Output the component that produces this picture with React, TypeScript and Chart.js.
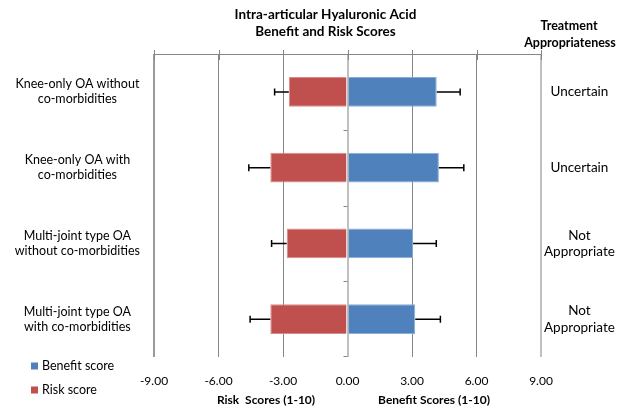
import React, { useEffect, useRef } from "react";
import { Chart, registerables } from "chart.js";

Chart.register(...registerables);

const categories: string[][] = [
  ["Knee-only OA without", "co-morbidities"],
  ["Knee-only OA with", "co-morbidities"],
  ["Multi-joint type OA", "without co-morbidities"],
  ["Multi-joint type OA", "with co-morbidities"],
];
const appropriateness: string[][] = [
  ["Uncertain"],
  ["Uncertain"],
  ["Not", "Appropriate"],
  ["Not", "Appropriate"],
];
const benefitScores = [4.15, 4.25, 3.05, 3.15];
const riskScores = [-2.73, -3.59, -2.83, -3.59];
const benefitErrors = [1.09, 1.16, 1.08, 1.17];
const riskErrors = [0.66, 1.0, 0.7, 0.94];
const xTickValues = [-9, -6, -3, 0, 3, 6, 9];

const FONT = "Lato";
const errorsByDataset = [benefitErrors, riskErrors];

const errorBarPlugin = {
  id: "errorBars",
  afterDatasetsDraw(chart: any) {
    const ctx = chart.ctx;
    const xs = chart.scales.x;
    ctx.save();
    ctx.strokeStyle = "#000";
    ctx.lineWidth = 1.5;
    chart.data.datasets.forEach((ds: any, i: number) => {
      const errs = errorsByDataset[i];
      const meta = chart.getDatasetMeta(i);
      meta.data.forEach((el: any, j: number) => {
        const v = ds.data[j];
        const sign = v >= 0 ? 1 : -1;
        const x1 = el.x;
        const x2 = xs.getPixelForValue(v + sign * errs[j]);
        const y = el.y;
        ctx.beginPath();
        ctx.moveTo(x1, y);
        ctx.lineTo(x2, y);
        ctx.moveTo(x2, y - 3.5);
        ctx.lineTo(x2, y + 3.5);
        ctx.stroke();
      });
    });
    ctx.restore();
  },
};

const annotationPlugin = {
  id: "annotations",
  beforeDatasetsDraw(chart: any) {
    const ctx = chart.ctx;
    const ca = chart.chartArea;
    const xs = chart.scales.x;
    const ys = chart.scales.y;
    ctx.save();
    ctx.strokeStyle = "#868686";
    ctx.lineWidth = 1;
    ctx.beginPath();
    ctx.moveTo(ca.left, ca.top + 0.5);
    ctx.lineTo(ca.right, ca.top + 0.5);
    xTickValues.forEach((v) => {
      const px = Math.round(xs.getPixelForValue(v)) + 0.5;
      ctx.moveTo(px, ca.top - 4);
      ctx.lineTo(px, ca.top + 6);
    });
    ctx.stroke();
    const x0 = xs.getPixelForValue(0);
    ctx.beginPath();
    for (let i = 1; i <= categories.length; i++) {
      const yb = Math.round((ys.getPixelForValue(i - 1) + ys.getPixelForValue(i)) / 2) + 0.5;
      const yy = i === categories.length ? ca.bottom - 0.5 : yb;
      ctx.moveTo(x0 - 4, yy);
      ctx.lineTo(x0, yy);
    }
    ctx.stroke();
    ctx.restore();
  },
  afterDraw(chart: any) {
    const ctx = chart.ctx;
    const ca = chart.chartArea;
    ctx.save();
    ctx.fillStyle = "#000";
    ctx.textAlign = "center";
    ctx.textBaseline = "middle";
    ctx.font = `bold 13.5px ${FONT}`;
    const tx = ca.left + (ca.right - ca.left) / 2 - 22;
    ctx.fillText("Intra-articular Hyaluronic Acid", tx, 15);
    ctx.fillText("Benefit and Risk Scores", tx, 32);
    ctx.font = `bold 12.5px ${FONT}`;
    ctx.fillText("Treatment", 569, 26);
    ctx.fillText("Appropriateness", 570, 43);
    ctx.font = `bold 12px ${FONT}`;
    ctx.fillText("Risk  Scores (1-10)", 266, 400);
    ctx.fillText("Benefit Scores (1-10)", 434, 400);
    ctx.font = `12.5px ${FONT}`;
    ctx.textAlign = "left";
    chart.data.datasets.forEach((ds: any, i: number) => {
      const y = 366 + i * 24;
      ctx.fillStyle = ds.backgroundColor;
      ctx.fillRect(31, y - 3.5, 7, 7);
      ctx.fillStyle = "#000";
      ctx.fillText(ds.label, 42, y);
    });
    ctx.restore();
  },
};

export default function App() {
  const ref = useRef<HTMLCanvasElement | null>(null);
  useEffect(() => {
    document.body.style.margin = "0";
    const canvas = ref.current;
    if (!canvas) return;
    const chart = new Chart(canvas, {
      type: "bar",
      data: {
        labels: categories as any,
        datasets: [
          {
            label: "Benefit score",
            data: benefitScores,
            backgroundColor: "#4F81BD",
            borderColor: "#8AADD8",
            borderWidth: 1,
            barPercentage: 0.395,
            categoryPercentage: 1,
          },
          {
            label: "Risk score",
            data: riskScores,
            backgroundColor: "#C0504D",
            borderColor: "#D88C8A",
            borderWidth: 1,
            barPercentage: 0.395,
            categoryPercentage: 1,
          },
        ],
      },
      options: {
        indexAxis: "y",
        responsive: false,
        animation: false,
        layout: { padding: { top: 54, left: 0, right: 0, bottom: 0 } },
        plugins: {
          legend: { display: false },
          title: { display: false },
          tooltip: { enabled: false },
        },
        scales: {
          x: {
            type: "linear",
            position: "bottom",
            min: -9,
            max: 9,
            stacked: true,
            afterBuildTicks: (s: any) => {
              s.ticks = xTickValues.map((v) => ({ value: v }));
            },
            ticks: {
              callback: (v: any) => Number(v).toFixed(2),
              padding: 17,
              color: "#000",
              font: { family: FONT, size: 12 },
            },
            grid: {
              drawTicks: false,
              color: (c: any) => {
                const v = c.tick && c.tick.value;
                if (v === 0 || v === 9) return "#C0C0C0";
                if (v === -9) return "#9A9A9A";
                return "#868686";
              },
              lineWidth: (c: any) => {
                const v = c.tick && c.tick.value;
                return v === 0 || v === 9 || v === -9 ? 2 : 1;
              },
            },
            border: { display: false },
            afterFit: (s: any) => {
              s.height = 51;
            },
          },
          y: {
            type: "category",
            position: "left",
            stacked: true,
            offset: true,
            grid: { display: false, drawTicks: false },
            border: { display: false },
            ticks: {
              crossAlign: "center",
              padding: 14,
              color: "#000",
              font: { family: FONT, size: 12.5 },
            },
            afterFit: (s: any) => {
              s.width = 154;
            },
          },
          y2: {
            type: "category",
            position: "right",
            labels: appropriateness as any,
            offset: true,
            grid: { display: false, drawTicks: false },
            border: { display: false },
            ticks: {
              crossAlign: "center",
              padding: 3,
              color: "#000",
              font: { family: FONT, size: 13.5 },
            },
            afterFit: (s: any) => {
              s.width = 85;
            },
          },
        },
      } as any,
      plugins: [annotationPlugin, errorBarPlugin],
    });
    return () => chart.destroy();
  }, []);
  return (
    <div style={{ width: 626, height: 408 }}>
      <canvas ref={ref} width={626} height={408} style={{ display: "block" }} />
    </div>
  );
}
